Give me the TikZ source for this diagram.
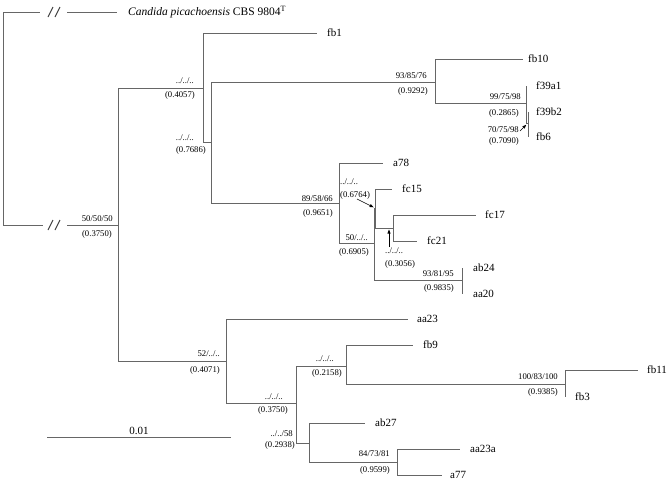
\documentclass[tikz,border=0pt]{standalone}
\usepackage{fontspec}
\setmainfont{Liberation Serif}
\usepackage{tikz}
\usetikzlibrary{arrows.meta}

\begin{document}
\begin{tikzpicture}[x=1pt, y=-1pt, every node/.style={inner sep=0pt}]
\tikzstyle{br}=[draw=black!60, line width=0.8pt]
\tikzstyle{cut}=[draw=black!75, line width=0.9pt]
\tikzstyle{leaf}=[anchor=west, inner xsep=10pt, font=\fontsize{11}{12}\selectfont]
\tikzstyle{supp}=[anchor=base east, font=\fontsize{8.7}{10}\selectfont]
\tikzstyle{suppl}=[anchor=base west, font=\fontsize{8.7}{10}\selectfont]
\tikzstyle{ptr}=[draw=black, line width=0.6pt, -{Triangle[length=4pt,width=3pt]}, shorten >=1.5pt]
\useasboundingbox (0,0) rectangle (669,482);

\coordinate (root) at (3,118);
\coordinate (cut1a) at (40,12);
\coordinate (cut1b) at (67,12);
\coordinate (cut2a) at (43,225);
\coordinate (cut2b) at (67,225);
\coordinate (n0) at (118,225);
\coordinate (nA) at (203,88);
\coordinate (nC) at (211,142);
\coordinate (nD) at (435,82);
\coordinate (nF) at (526,103);
\coordinate (nG) at (528,123);
\coordinate (nE) at (339,203);
\coordinate (nK) at (374,243);
\coordinate (nL) at (375,208);
\coordinate (nI) at (393,228);
\coordinate (nJ) at (462,280);
\coordinate (nB) at (226,361);
\coordinate (nM) at (296,403);
\coordinate (nN) at (346,366);
\coordinate (nO) at (565,384);
\coordinate (nP) at (309,443);
\coordinate (nQ) at (397,462);

\node[leaf, inner xsep=11pt, font=\fontsize{11.5}{12}\selectfont] (cand) at (117,12) {\textit{Candida picachoensis} CBS 9804\textsuperscript{T}};
\node[leaf] (fb1) at (317,33) {fb1};
\node[leaf, inner xsep=5pt] (fb10) at (523,59) {fb10};
\node[leaf] (f39a1) at (526,86) {f39a1};
\node[leaf, inner xsep=8pt] (f39b2) at (528,112) {f39b2};
\node[leaf, inner xsep=8pt] (fb6) at (528,137) {fb6};
\node[leaf] (a78) at (383,163) {a78};
\node[leaf] (fc15) at (392,189) {fc15};
\node[leaf, inner xsep=9pt] (fc17) at (476,215) {fc17};
\node[leaf] (fc21) at (417,241) {fc21};
\node[leaf, inner xsep=11pt] (ab24) at (462,268) {ab24};
\node[leaf, inner xsep=11pt] (aa20) at (462,294) {aa20};
\node[leaf, inner xsep=9pt] (aa23) at (408,319) {aa23};
\node[leaf] (fb9) at (413,345) {fb9};
\node[leaf, inner xsep=9pt] (fb11) at (638,370) {fb11};
\node[leaf] (fb3) at (565,397) {fb3};
\node[leaf] (ab27) at (365,423) {ab27};
\node[leaf] (aa23a) at (460,449) {aa23a};
\node[leaf, inner xsep=8pt] (a77) at (442,475) {a77};

\draw[br] (root) |- (cut1a);
\draw[br] (cut1b) -- (cand);
\draw[br] (root) |- (cut2a);
\draw[br] (cut2b) -- (n0);
\foreach \y in {12,225}
  \foreach \x in {50.5,57.5}
    \draw[cut] (\x-2.5,\y+5) -- (\x+2.5,\y-5);

\draw[br] (n0) |- (nA);
\draw[br] (n0) |- (nB);
\draw[br] (nA) |- (fb1);
\draw[br] (nA) |- (nC);
\draw[br] (nC) |- (nD);
\draw[br] (nC) |- (nE);
\draw[br] (nD) |- (fb10);
\draw[br] (nD) |- (nF);
\draw[br] (nF) |- (f39a1);
\draw[br] (nF) |- (nG);
\draw[br] (nG) |- (f39b2);
\draw[br] (nG) |- (fb6);
\draw[br] (nE) |- (a78);
\draw[br] (nE) |- (nK);
\draw[br] (nK) |- (nL);
\draw[br] (nK) |- (nJ);
\draw[br] (nL) |- (fc15);
\draw[br] (nL) |- (nI);
\draw[br] (nI) |- (fc17);
\draw[br] (nI) |- (fc21);
\draw[br] (nJ) |- (ab24);
\draw[br] (nJ) |- (aa20);
\draw[br] (nB) |- (aa23);
\draw[br] (nB) |- (nM);
\draw[br] (nM) |- (nN);
\draw[br] (nM) |- (nP);
\draw[br] (nN) |- (fb9);
\draw[br] (nN) |- (nO);
\draw[br] (nO) |- (fb11);
\draw[br] (nO) |- (fb3);
\draw[br] (nP) |- (ab27);
\draw[br] (nP) |- (nQ);
\draw[br] (nQ) |- (aa23a);
\draw[br] (nQ) |- (a77);

\node[supp] (s0a) at (113,221) {50/50/50};
\node[supp] (s0b) at (112,236) {(0.3750)};
\node[supp] (sAa) at (194,83) {../../..};
\node[supp] (sAb) at (195,97) {(0.4057)};
\node[supp] (sCa) at (194,140) {../../..};
\node[supp] (sCb) at (206,152) {(0.7686)};
\node[supp] (sDa) at (427,78) {93/85/76};
\node[supp] (sDb) at (428,93) {(0.9292)};
\node[supp] (sFa) at (521,99) {99/75/98};
\node[supp] (sFb) at (519,115) {(0.2865)};
\node[supp] (sGa) at (519,132) {70/75/98};
\node[supp] (sGb) at (519,143) {(0.7090)};
\node[supp] (sEa) at (333,201) {89/58/66};
\node[supp] (sEb) at (333,215) {(0.9651)};
\node[suppl] (sLa) at (340,184) {../../..};
\node[suppl] (sLb) at (340,197) {(0.6764)};
\node[supp] (sKa) at (368,240) {50/../..};
\node[supp] (sKb) at (369,254) {(0.6905)};
\node[suppl] (sIa) at (385,253) {../../..};
\node[suppl] (sIb) at (385,266) {(0.3056)};
\node[supp] (sJa) at (454,276) {93/81/95};
\node[supp] (sJb) at (454,290) {(0.9835)};
\node[supp] (sBa) at (220,356) {52/../..};
\node[supp] (sBb) at (220,372) {(0.4071)};
\node[supp] (sMa) at (283,399) {../../..};
\node[supp] (sMb) at (288,412) {(0.3750)};
\node[supp] (sNa) at (334,361) {../../..};
\node[supp] (sNb) at (342,375) {(0.2158)};
\node[supp] (sOa) at (558,379) {100/83/100};
\node[supp] (sOb) at (558,394) {(0.9385)};
\node[supp] (sPa) at (293,436) {../../58};
\node[supp] (sPb) at (295,447) {(0.2938)};
\node[supp] (sQa) at (390,456) {84/73/81};
\node[supp] (sQb) at (390,472) {(0.9599)};

\coordinate (arG) at (520,131);
\coordinate (arL) at (357,199);
\coordinate (arI) at (389,247);
\draw[ptr, shorten >=2.5pt] (arG) -- (nG);
\draw[ptr] (arL) -- (nL);
\draw[ptr] (arI) -- (arI |- nI);

\coordinate (sc1) at (47,437);
\coordinate (sc2) at (231,437);
\draw[br] (sc1) -- node[above=2pt, font=\fontsize{11}{12}\selectfont] (scl) {0.01} (sc2);
\end{tikzpicture}
\end{document}
